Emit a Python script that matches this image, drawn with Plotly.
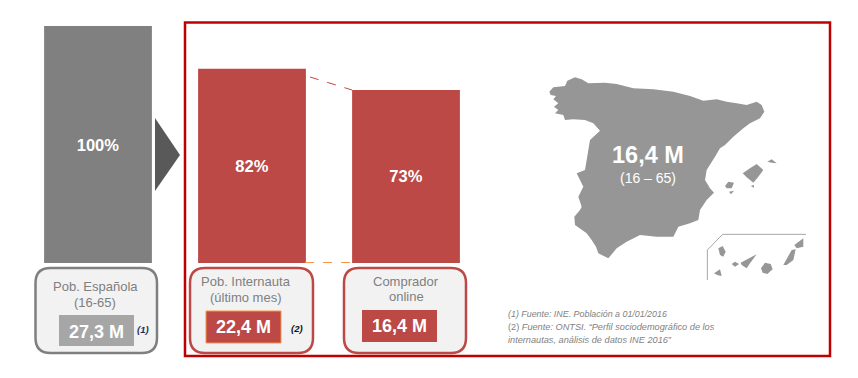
import plotly.graph_objects as go

W, H = 858, 378
categories = ["Pob. Española", "Pob. Internauta", "Comprador online"]
percent_values = [100, 82, 73]
bar_labels = ["100%", "82%", "73%"]
bar_colors = ["#808080", "#bc4946", "#bc4946"]

RED = "#bc4946"
FRAME = "#c00000"
GREY_TXT = "#7f7f7f"


def X(p):
    return p / W


def Y(p):
    return 1 - p / H


def path(points, close=True):
    s = "M " + " L ".join(f"{X(a):.5f},{Y(b):.5f}" for a, b in points)
    return s + (" Z" if close else "")


def rrect(x0, y0, x1, y1, r):
    return (f"M {X(x0+r):.5f},{Y(y0):.5f} L {X(x1-r):.5f},{Y(y0):.5f} "
            f"Q {X(x1):.5f},{Y(y0):.5f} {X(x1):.5f},{Y(y0+r):.5f} "
            f"L {X(x1):.5f},{Y(y1-r):.5f} Q {X(x1):.5f},{Y(y1):.5f} {X(x1-r):.5f},{Y(y1):.5f} "
            f"L {X(x0+r):.5f},{Y(y1):.5f} Q {X(x0):.5f},{Y(y1):.5f} {X(x0):.5f},{Y(y1-r):.5f} "
            f"L {X(x0):.5f},{Y(y0+r):.5f} Q {X(x0):.5f},{Y(y0):.5f} {X(x0+r):.5f},{Y(y0):.5f} Z")


def z(points):
    return [(530 + a / 3, 60 + b / 3) for a, b in points]


mainland = z([(58,95),(70,82),(105,78),(112,62),(135,52),(155,58),(175,70),(225,68),(260,72),(310,85),
              (370,88),(430,95),(480,108),(520,122),(560,118),(590,125),(620,130),(650,135),(680,125),
              (695,135),(703,155),(690,175),(660,190),(640,205),(610,230),(585,255),(570,265),(555,290),
              (530,330),(525,360),(540,385),(552,398),(530,420),(510,450),(505,480),(480,490),(445,500),
              (430,530),(380,530),(330,525),(290,545),(260,565),(235,595),(205,580),(198,560),(185,540),
              (170,520),(135,495),(133,470),(150,450),(155,440),(145,410),(160,380),(140,340),(165,330),
              (180,240),(210,212),(190,190),(165,180),(130,178),(105,180),(100,165),(75,160),(85,150),
              (72,140),(85,130),(70,118),(78,108),(62,105)])
islands = [z(p) for p in [
    [(638,340),(660,325),(680,312),(700,330),(685,350),(670,368),(650,352)],
    [(712,305),(725,298),(740,310),(725,308)],
    [(585,378),(595,365),(612,368),(605,385),(590,385)],
    [(597,395),(612,392),(603,403)],
    [(662,378),(672,375),(672,383)],
    [(565,565),(578,558),(587,575),(580,590),(570,585)],
    [(552,640),(570,628),(575,648),(562,645)],
    [(605,612),(615,605),(627,612),(615,620)],
    [(632,608),(680,583),(660,610),(650,625),(635,615)],
    [(693,625),(705,608),(722,612),(728,628),(712,642),(698,638)],
    [(760,615),(785,570),(797,568),(790,600),(770,615)],
    [(793,555),(820,535),(820,560),(800,565)],
]]
canary_frame = z([(532,660),(532,570),(578,523),(828,523)])

shapes = [
    dict(type="rect", xref="paper", yref="paper", x0=X(185), x1=X(830), y0=Y(22.5), y1=Y(356),
         line=dict(color=FRAME, width=2.5), fillcolor="rgba(0,0,0,0)", layer="below"),
    dict(type="path", xref="paper", yref="paper", path=path([(155,118),(180,155),(155,191)]),
         fillcolor="#595959", line=dict(width=0)),
    dict(type="path", xref="paper", yref="paper", path=rrect(35.5,268,157,353,15),
         fillcolor="#f2f2f2", line=dict(color="#7f7f7f", width=2.5)),
    dict(type="path", xref="paper", yref="paper", path=rrect(190,268,313,353,15),
         fillcolor="#f2f2f2", line=dict(color=RED, width=2.5)),
    dict(type="path", xref="paper", yref="paper", path=rrect(344,268,466,353,15),
         fillcolor="#f2f2f2", line=dict(color=RED, width=2.5)),
    dict(type="rect", xref="paper", yref="paper", x0=X(59), x1=X(134), y0=Y(315), y1=Y(346),
         fillcolor="#a6a6a6", line=dict(width=0)),
    dict(type="rect", xref="paper", yref="paper", x0=X(206), x1=X(281), y0=Y(311), y1=Y(343),
         fillcolor=RED, line=dict(color="#f79646", width=1)),
    dict(type="rect", xref="paper", yref="paper", x0=X(362), x1=X(437), y0=Y(310), y1=Y(342),
         fillcolor=RED, line=dict(width=0)),
    dict(type="line", xref="paper", yref="paper", x0=X(310), y0=Y(77), x1=X(352), y1=Y(90),
         line=dict(color=RED, width=1, dash="dash")),
    dict(type="line", xref="paper", yref="paper", x0=X(305), y0=Y(262.5), x1=X(352), y1=Y(262.5),
         line=dict(color="#f79646", width=1, dash="dash")),
    dict(type="path", xref="paper", yref="paper", path=path(mainland), fillcolor="#969696", line=dict(width=0)),
    dict(type="path", xref="paper", yref="paper", path=path(canary_frame, close=False),
         line=dict(color="#a6a6a6", width=1)),
]
for isl in islands:
    shapes.append(dict(type="path", xref="paper", yref="paper", path=path(isl),
                       fillcolor="#969696", line=dict(width=0)))

FONT = "Liberation Sans"


def note(px, py, text, size, color=GREY_TXT, anchor="center"):
    return dict(xref="paper", yref="paper", x=X(px), y=Y(py), text=text, showarrow=False,
                xanchor=anchor, yanchor="middle", font=dict(family=FONT, size=size, color=color))


annotations = [
    note(95, 286, "Pob. Española", 13),
    note(95, 302, "(16-65)", 13),
    note(96.5, 332, "<b>27,3 M</b>", 18, "#ffffff"),
    note(143, 329, "<b><i>(1)</i></b>", 9.5, "#1f2d50"),
    note(246, 281, "Pob. Internauta", 13),
    note(246, 297, "(último mes)", 13),
    note(243, 327, "<b>22,4 M</b>", 18, "#ffffff"),
    note(297, 328, "<b><i>(2)</i></b>", 9.5, "#111111"),
    note(406, 281, "Comprador", 13),
    note(406, 296, "online", 13),
    note(399, 326, "<b>16,4 M</b>", 18, "#ffffff"),
    note(648, 155, "<b>16,4 M</b>", 23.5, "#ffffff"),
    note(648, 178, "(16 – 65)", 14, "#ffffff"),
    note(506, 314, "<i>(1) Fuente: INE. Población a 01/01/2016</i>", 8.9, anchor="left"),
    note(506, 327, "(2) <i>Fuente: ONTSI. “Perfil sociodemográfico de los</i>", 9.2, anchor="left"),
    note(506, 340, "<i>internautas, análisis de datos INE 2016”</i>", 9.2, anchor="left"),
]

fig = go.Figure(go.Bar(
    x=categories, y=percent_values, width=0.70, marker=dict(color=bar_colors, line=dict(width=0)),
    text=[f"<b>{t}</b>" for t in bar_labels], textposition="inside", insidetextanchor="middle",
    textangle=0, constraintext="none", textfont=dict(family=FONT, size=16.5, color="#ffffff"),
    hoverinfo="skip"))

BASE = 263
SCALE = 2.37
fig.update_layout(
    width=W, height=H, autosize=False, margin=dict(l=0, r=0, t=0, b=0),
    paper_bgcolor="#ffffff", plot_bgcolor="rgba(0,0,0,0)", showlegend=False,
    xaxis=dict(type="category", range=[-98 / 154, (W - 98) / 154], visible=False, fixedrange=True),
    yaxis=dict(range=[-(H - BASE) / SCALE, BASE / SCALE], visible=False, fixedrange=True),
    shapes=shapes, annotations=annotations,
)
fig.write_html("out.html", config=dict(displayModeBar=False), default_width=f"{W}px", default_height=f"{H}px",
               post_script="document.body.style.margin='0';document.documentElement.style.overflow='hidden';")
